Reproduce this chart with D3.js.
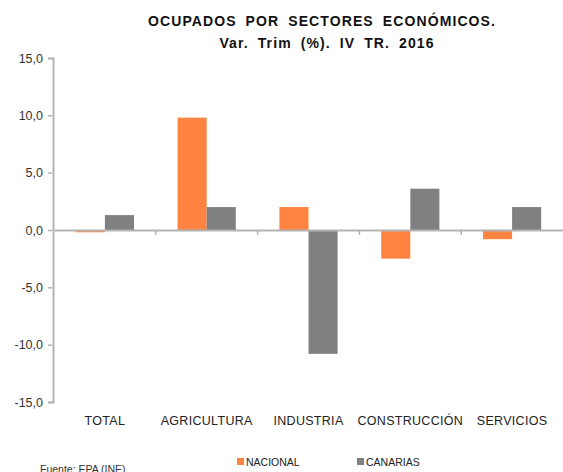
<!DOCTYPE html>
<html>
<head>
<meta charset="utf-8">
<script src="https://cdn.jsdelivr.net/npm/d3@7"></script>
<style>
  body { margin: 0; background: #fff; }
  text { font-family: "Liberation Sans", Arial, sans-serif; }
</style>
</head>
<body>
<div class="vis-bars"></div>
<script>
// data
var categories = ["TOTAL", "AGRICULTURA", "INDUSTRIA", "CONSTRUCCIÓN", "SERVICIOS"];
var seriesNames = ["NACIONAL", "CANARIAS"];
var nacional = [-0.2, 9.8, 2.0, -2.5, -0.8];
var canarias = [1.3, 2.0, -10.8, 3.6, 2.0];
var yTicks = [-15, -10, -5, 0, 5, 10, 15];
var titleLines = ["OCUPADOS POR SECTORES ECONÓMICOS.", "Var. Trim (%). IV TR. 2016"];
var source = "Fuente: EPA (INE)";

var colors = ["#ff8442", "#808080"];

var width = 563, height = 472;
var margin = {top: 58, right: 0, bottom: 70, left: 53};

var svg = d3.select(".vis-bars")
  .append("svg")
    .attr("width", width)
    .attr("height", height);

// title
svg.append("g").selectAll("text")
  .data(titleLines)
  .enter()
  .append("text")
    .attr("x", function(d, i) { return i == 0 ? 322 : 327; })
    .attr("y", function(d, i) { return 26 + i * 22; })
    .attr("text-anchor", "middle")
    .style("font-size", "14px")
    .style("font-weight", "bold")
    .style("letter-spacing", "1.1px")
    .style("word-spacing", "4px")
    .style("fill", "#111")
    .text(function(d) { return d; });

var y = d3.scaleLinear()
  .domain([-15, 15])
  .range([402, margin.top]);

var x = d3.scaleBand()
  .domain(categories)
  .range([margin.left + 1, width])
  .paddingInner(0)
  .paddingOuter(0);

// bars: gap of 150% like excel
var inner = d3.scaleBand()
  .domain(seriesNames)
  .range([0, x.bandwidth()])
  .paddingInner(0)
  .paddingOuter(0.75);

var rows = categories.map(function(c, i) {
  return {cat: c, values: [nacional[i], canarias[i]]};
});

var groups = svg.append("g")
  .selectAll("g")
  .data(rows)
  .enter()
  .append("g")
    .attr("transform", function(d) { return "translate(" + x(d.cat) + ",0)"; });

groups.selectAll("rect")
  .data(function(d) { return d.values.map(function(v, j) { return {name: seriesNames[j], v: v, j: j}; }); })
  .enter()
  .append("rect")
    .attr("x", function(d) { return inner(d.name); })
    .attr("width", inner.bandwidth())
    .attr("y", function(d) { return y(Math.max(0, d.v)); })
    .attr("height", function(d) { return Math.abs(y(d.v) - y(0)); })
    .style("fill", function(d) { return colors[d.j]; });

// y axis
var yAxis = svg.append("g")
  .attr("transform", "translate(" + margin.left + ",0)")
  .call(d3.axisLeft(y)
    .tickValues(yTicks)
    .tickSize(5)
    .tickPadding(5)
    .tickFormat(function(d) { return d3.format(".1f")(d).replace(".", ",").replace("−", "-"); }));
yAxis.select(".domain").attr("stroke", "#b3b3b3").attr("stroke-width", 2);
yAxis.selectAll(".tick line").attr("stroke", "#b3b3b3").attr("stroke-width", 1.5)
  .attr("x1", -1).attr("x2", -5);
yAxis.selectAll(".tick text")
  .style("font-size", "12.5px")
  .style("fill", "#333")
  .style("font-family", "'Liberation Sans', Arial, sans-serif");

// zero line with category ticks
var xAxis = svg.append("g")
  .attr("transform", "translate(0," + y(0) + ")")
  .call(d3.axisBottom(x).tickSize(0).tickFormat(""));
xAxis.select(".domain").attr("stroke", "#b3b3b3").attr("stroke-width", 2);
xAxis.selectAll(".tick").remove();

xAxis.append("g").selectAll("line")
  .data(categories.slice(1))
  .enter()
  .append("line")
    .attr("x1", function(d) { return x(d); })
    .attr("x2", function(d) { return x(d); })
    .attr("y1", 1)
    .attr("y2", 5)
    .attr("stroke", "#b3b3b3")
    .attr("stroke-width", 1.5);

// category labels at the bottom
svg.append("g").selectAll("text")
  .data(categories)
  .enter()
  .append("text")
    .attr("x", function(d) { return x(d) + x.bandwidth() / 2; })
    .attr("y", 425)
    .attr("text-anchor", "middle")
    .style("font-size", "12.5px")
    .style("letter-spacing", "0.3px")
    .style("fill", "#222")
    .text(function(d) { return d; });

// legend
var legend = svg.append("g").selectAll("g")
  .data(seriesNames)
  .enter()
  .append("g")
    .attr("transform", function(d, i) { return "translate(" + (237 + i * 120) + ",458)"; });
legend.append("rect")
  .attr("width", 7)
  .attr("height", 7)
  .style("fill", function(d, i) { return colors[i]; });
legend.append("text")
  .attr("x", 9)
  .attr("y", 7.5)
  .style("font-size", "10.5px")
  .style("fill", "#222")
  .text(function(d) { return d; });

// source (cut at the bottom edge, as in the reference)
svg.append("text")
  .attr("x", 40)
  .attr("y", 473)
  .style("font-size", "10.5px")
  .style("fill", "#333")
  .text(source);
</script>
</body>
</html>
